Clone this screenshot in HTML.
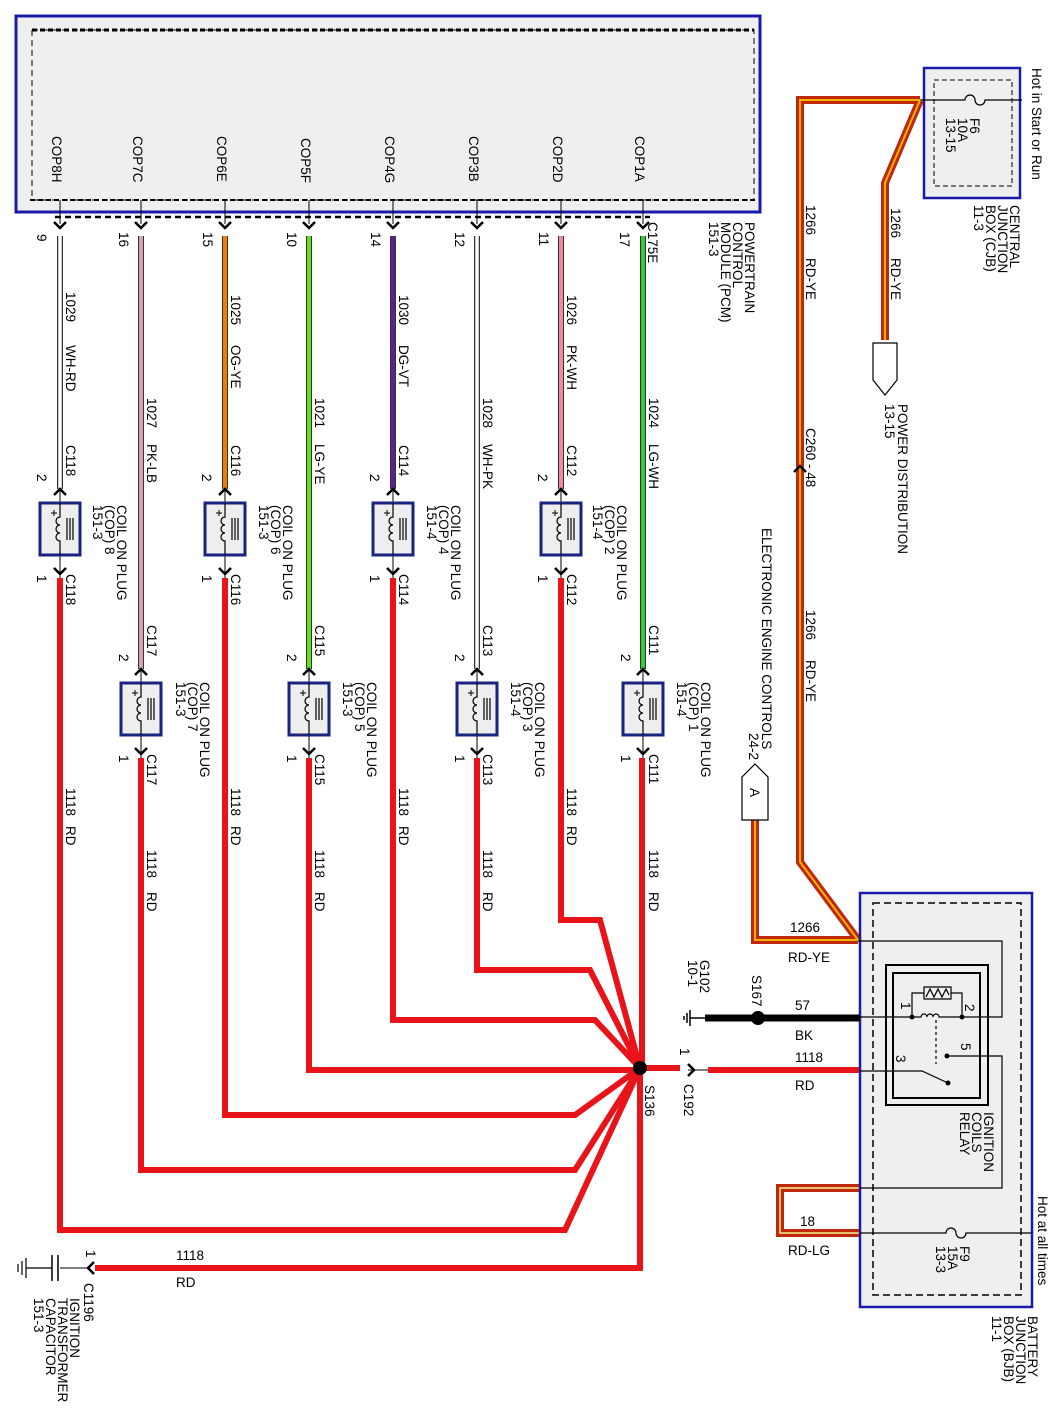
<!DOCTYPE html>
<html><head><meta charset="utf-8"><style>
html,body{margin:0;padding:0;background:#fff}
svg{display:block}
text{font-family:"Liberation Sans",sans-serif;font-size:13.5px;fill:#000}
</style></head><body>
<svg width="1058" height="1412" viewBox="0 0 1058 1412" xmlns="http://www.w3.org/2000/svg">
<defs>
<g id="coil">
<rect x="-20" y="-26" width="40" height="52" fill="#eeeeee" stroke="#1a237e" stroke-width="3"/>
<path d="M0,-26 V-12 a4,4 0 0 0 0,8 a4,4 0 0 0 0,8 a4,4 0 0 0 0,8 V26" fill="none" stroke="#000" stroke-width="1.2"/>
<path d="M7,-11 V11 M10,-11 V11 M13,-11 V11" stroke="#000" stroke-width="1.2"/>
<path d="M-9,-16 h6 M-6,-19 v6" stroke="#000" stroke-width="1"/>
</g>
<path id="chd" d="M-6,-6 L0,0 L6,-6" fill="none" stroke="#000" stroke-width="2.5"/>
<path id="chu" d="M-6,6 L0,0 L6,6" fill="none" stroke="#000" stroke-width="2.5"/>
</defs>

<rect x="16" y="16" width="744" height="196" fill="#efefef" stroke="#1a1aaa" stroke-width="3"/>
<path d="M32,30 H754 V200 M32,30 V200 H754" fill="none" stroke="#000" stroke-width="1" stroke-dasharray="6,4"/>
<path d="M32,30 H754" stroke="#000" stroke-width="3" stroke-dasharray="5,3"/>
<path d="M30,200 H756" stroke="#000" stroke-width="2" stroke-dasharray="5,3"/>
<path d="M55,217 H650" stroke="#000" stroke-width="2.5" stroke-dasharray="6,4"/>

<g transform="translate(52,136) rotate(90)"><text>COP8H</text></g>
<g transform="translate(133,136) rotate(90)"><text>COP7C</text></g>
<g transform="translate(217,136) rotate(90)"><text>COP6E</text></g>
<g transform="translate(301,138) rotate(90)"><text>COP5F</text></g>
<g transform="translate(385,136) rotate(90)"><text>COP4G</text></g>
<g transform="translate(469,136) rotate(90)"><text>COP3B</text></g>
<g transform="translate(553,136) rotate(90)"><text>COP2D</text></g>
<g transform="translate(635,136) rotate(90)"><text>COP1A</text></g>

<g transform="translate(745,222) rotate(90)"><text>POWERTRAIN</text></g>
<g transform="translate(733,222) rotate(90)"><text>CONTROL</text></g>
<g transform="translate(721,222) rotate(90)"><text>MODULE (PCM)</text></g>
<g transform="translate(709,222) rotate(90)"><text>151-3</text></g>

<g stroke="#000" stroke-width="1">
<path d="M60,200 V224 M141,200 V224 M225,200 V224 M309,200 V224 M393,200 V224 M477,200 V224 M561,200 V224 M643,200 V224"/>
</g>
<use href="#chd" x="60" y="228"/><use href="#chd" x="141" y="228"/><use href="#chd" x="225" y="228"/><use href="#chd" x="309" y="228"/>
<use href="#chd" x="393" y="228"/><use href="#chd" x="477" y="228"/><use href="#chd" x="561" y="228"/><use href="#chd" x="643" y="228"/>

<g fill="none" stroke-linecap="butt">
<path d="M60,236 V489 M141,236 V669 M225,236 V489 M309,236 V669 M393,236 V489 M477,236 V669 M561,236 V489 M643,236 V669" stroke="#333" stroke-width="6"/>
<path d="M60,236 V489" stroke="#fff" stroke-width="3.5"/>
<path d="M141,236 V669" stroke="#d8a2ac" stroke-width="4"/>
<path d="M225,236 V489" stroke="#f07d00" stroke-width="4"/>
<path d="M309,236 V669" stroke="#66e01a" stroke-width="4"/>
<path d="M393,236 V489" stroke="#5a2290" stroke-width="4"/>
<path d="M477,236 V669" stroke="#fff" stroke-width="3.5"/>
<path d="M561,236 V489" stroke="#ef8aa0" stroke-width="4"/>
<path d="M643,236 V669" stroke="#33cc33" stroke-width="4"/>
</g>

<g>
<g transform="translate(37,234) rotate(90)"><text>9</text></g>
<g transform="translate(119,232) rotate(90)"><text>16</text></g>
<g transform="translate(203,232) rotate(90)"><text>15</text></g>
<g transform="translate(287,232) rotate(90)"><text>10</text></g>
<g transform="translate(371,232) rotate(90)"><text>14</text></g>
<g transform="translate(455,232) rotate(90)"><text>12</text></g>
<g transform="translate(539,232) rotate(90)"><text>11</text></g>
<g transform="translate(620,232) rotate(90)"><text>17</text></g>
<g transform="translate(648,222) rotate(90)"><text>C175E</text></g>
</g>

<g transform="translate(66,292) rotate(90)"><text>1029</text></g>
<g transform="translate(66,345) rotate(90)"><text>WH-RD</text></g>
<g transform="translate(147,398) rotate(90)"><text>1027</text></g>
<g transform="translate(147,444) rotate(90)"><text>PK-LB</text></g>
<g transform="translate(231,295) rotate(90)"><text>1025</text></g>
<g transform="translate(231,345) rotate(90)"><text>OG-YE</text></g>
<g transform="translate(315,398) rotate(90)"><text>1021</text></g>
<g transform="translate(315,444) rotate(90)"><text>LG-YE</text></g>
<g transform="translate(399,295) rotate(90)"><text>1030</text></g>
<g transform="translate(399,345) rotate(90)"><text>DG-VT</text></g>
<g transform="translate(483,398) rotate(90)"><text>1028</text></g>
<g transform="translate(483,444) rotate(90)"><text>WH-PK</text></g>
<g transform="translate(567,295) rotate(90)"><text>1026</text></g>
<g transform="translate(567,345) rotate(90)"><text>PK-WH</text></g>
<g transform="translate(649,398) rotate(90)"><text>1024</text></g>
<g transform="translate(649,444) rotate(90)"><text>LG-WH</text></g>

<g fill="none" stroke="#e8141a" stroke-width="6" stroke-linejoin="miter">
<path d="M60,578 V1230 H565 L640,1068"/>
<path d="M141,758 V1170 H575 L640,1068"/>
<path d="M225,578 V1115 H575 L640,1068"/>
<path d="M309,758 V1070 H640"/>
<path d="M393,578 V1020 H595 L640,1068"/>
<path d="M477,758 V970 H590 L640,1068"/>
<path d="M561,578 V920 H600 L640,1068"/>
<path d="M642,758 V1068"/>
<path d="M640,1068 V1268 H95"/>
<path d="M640,1068 H680"/>
<path d="M708,1070 H860"/>
</g>
<circle cx="640" cy="1068" r="7" fill="#000"/>

<g stroke="#000" stroke-width="1"><path d="M60,489 V578 M225,489 V578 M393,489 V578 M561,489 V578 M141,669 V758 M309,669 V758 M477,669 V758 M643,669 V758"/></g>
<use href="#coil" x="60" y="529"/><use href="#coil" x="225" y="529"/><use href="#coil" x="393" y="529"/><use href="#coil" x="561" y="529"/>
<use href="#coil" x="141" y="709"/><use href="#coil" x="309" y="709"/><use href="#coil" x="477" y="709"/><use href="#coil" x="643" y="709"/>
<use href="#chu" x="60" y="489"/><use href="#chu" x="225" y="489"/><use href="#chu" x="393" y="489"/><use href="#chu" x="561" y="489"/>
<use href="#chd" x="60" y="574"/><use href="#chd" x="225" y="574"/><use href="#chd" x="393" y="574"/><use href="#chd" x="561" y="574"/>
<use href="#chu" x="141" y="669"/><use href="#chu" x="309" y="669"/><use href="#chu" x="477" y="669"/><use href="#chu" x="643" y="669"/>
<use href="#chd" x="141" y="754"/><use href="#chd" x="309" y="754"/><use href="#chd" x="477" y="754"/><use href="#chd" x="643" y="754"/>

<g>
<g transform="translate(66,445) rotate(90)"><text>C118</text></g><g transform="translate(37,474) rotate(90)"><text>2</text></g>
<g transform="translate(37,575) rotate(90)"><text>1</text></g><g transform="translate(66,574) rotate(90)"><text>C118</text></g>
<g transform="translate(117,505) rotate(90)"><text>COIL ON PLUG</text></g><g transform="translate(105,505) rotate(90)"><text>(COP) 8</text></g><g transform="translate(93,505) rotate(90)"><text>151-3</text></g>

<g transform="translate(231,445) rotate(90)"><text>C116</text></g><g transform="translate(202,474) rotate(90)"><text>2</text></g>
<g transform="translate(202,575) rotate(90)"><text>1</text></g><g transform="translate(231,574) rotate(90)"><text>C116</text></g>
<g transform="translate(283,505) rotate(90)"><text>COIL ON PLUG</text></g><g transform="translate(271,505) rotate(90)"><text>(COP) 6</text></g><g transform="translate(259,505) rotate(90)"><text>151-3</text></g>

<g transform="translate(399,445) rotate(90)"><text>C114</text></g><g transform="translate(370,474) rotate(90)"><text>2</text></g>
<g transform="translate(370,575) rotate(90)"><text>1</text></g><g transform="translate(399,574) rotate(90)"><text>C114</text></g>
<g transform="translate(451,505) rotate(90)"><text>COIL ON PLUG</text></g><g transform="translate(439,505) rotate(90)"><text>(COP) 4</text></g><g transform="translate(427,505) rotate(90)"><text>151-4</text></g>

<g transform="translate(567,445) rotate(90)"><text>C112</text></g><g transform="translate(538,474) rotate(90)"><text>2</text></g>
<g transform="translate(538,575) rotate(90)"><text>1</text></g><g transform="translate(567,574) rotate(90)"><text>C112</text></g>
<g transform="translate(617,505) rotate(90)"><text>COIL ON PLUG</text></g><g transform="translate(605,505) rotate(90)"><text>(COP) 2</text></g><g transform="translate(593,505) rotate(90)"><text>151-4</text></g>
</g>

<g>
<g transform="translate(147,625) rotate(90)"><text>C117</text></g><g transform="translate(119,654) rotate(90)"><text>2</text></g>
<g transform="translate(119,755) rotate(90)"><text>1</text></g><g transform="translate(147,754) rotate(90)"><text>C117</text></g>
<g transform="translate(200,682) rotate(90)"><text>COIL ON PLUG</text></g><g transform="translate(188,682) rotate(90)"><text>(COP) 7</text></g><g transform="translate(176,682) rotate(90)"><text>151-3</text></g>

<g transform="translate(315,625) rotate(90)"><text>C115</text></g><g transform="translate(287,654) rotate(90)"><text>2</text></g>
<g transform="translate(287,755) rotate(90)"><text>1</text></g><g transform="translate(315,754) rotate(90)"><text>C115</text></g>
<g transform="translate(367,682) rotate(90)"><text>COIL ON PLUG</text></g><g transform="translate(355,682) rotate(90)"><text>(COP) 5</text></g><g transform="translate(343,682) rotate(90)"><text>151-3</text></g>

<g transform="translate(483,625) rotate(90)"><text>C113</text></g><g transform="translate(455,654) rotate(90)"><text>2</text></g>
<g transform="translate(455,755) rotate(90)"><text>1</text></g><g transform="translate(483,754) rotate(90)"><text>C113</text></g>
<g transform="translate(535,682) rotate(90)"><text>COIL ON PLUG</text></g><g transform="translate(523,682) rotate(90)"><text>(COP) 3</text></g><g transform="translate(511,682) rotate(90)"><text>151-4</text></g>

<g transform="translate(649,625) rotate(90)"><text>C111</text></g><g transform="translate(621,654) rotate(90)"><text>2</text></g>
<g transform="translate(621,755) rotate(90)"><text>1</text></g><g transform="translate(649,754) rotate(90)"><text>C111</text></g>
<g transform="translate(701,682) rotate(90)"><text>COIL ON PLUG</text></g><g transform="translate(689,682) rotate(90)"><text>(COP) 1</text></g><g transform="translate(677,682) rotate(90)"><text>151-4</text></g>
</g>

<g>
<g transform="translate(66,788) rotate(90)"><text>1118</text></g><g transform="translate(66,826) rotate(90)"><text>RD</text></g>
<g transform="translate(231,788) rotate(90)"><text>1118</text></g><g transform="translate(231,826) rotate(90)"><text>RD</text></g>
<g transform="translate(399,788) rotate(90)"><text>1118</text></g><g transform="translate(399,826) rotate(90)"><text>RD</text></g>
<g transform="translate(567,788) rotate(90)"><text>1118</text></g><g transform="translate(567,826) rotate(90)"><text>RD</text></g>
<g transform="translate(147,850) rotate(90)"><text>1118</text></g><g transform="translate(147,892) rotate(90)"><text>RD</text></g>
<g transform="translate(315,850) rotate(90)"><text>1118</text></g><g transform="translate(315,892) rotate(90)"><text>RD</text></g>
<g transform="translate(483,850) rotate(90)"><text>1118</text></g><g transform="translate(483,892) rotate(90)"><text>RD</text></g>
<g transform="translate(649,850) rotate(90)"><text>1118</text></g><g transform="translate(649,892) rotate(90)"><text>RD</text></g>
</g>

<g transform="translate(645,1085) rotate(90)"><text>S136</text></g>
<use href="#chd" x="694" y="1070" transform="rotate(-90 694 1070)"/>
<path d="M688,1070 H708" stroke="#000" stroke-width="1"/>
<g transform="translate(680,1048) rotate(90)"><text>1</text></g>
<g transform="translate(684,1084) rotate(90)"><text>C192</text></g>
<text x="795" y="1062">1118</text><text x="795" y="1090">RD</text>

<text x="176" y="1260">1118</text><text x="176" y="1287">RD</text>
<use href="#chd" x="88" y="1268" transform="rotate(90 88 1268)"/>
<path d="M60,1268 H90" stroke="#000" stroke-width="1"/>
<path d="M58,1255 V1281 M52,1255 V1281" stroke="#000" stroke-width="1.5"/>
<path d="M52,1268 H26 M26,1258 V1278 M22,1261 V1275 M18,1264 V1272" stroke="#000" stroke-width="1.2"/>
<g transform="translate(86,1250) rotate(90)"><text>1</text></g>
<g transform="translate(84,1283) rotate(90)"><text>C1196</text></g>
<g transform="translate(70,1298) rotate(90)"><text>IGNITION</text></g>
<g transform="translate(58,1298) rotate(90)"><text>TRANSFORMER</text></g>
<g transform="translate(46,1298) rotate(90)"><text>CAPACITOR</text></g>
<g transform="translate(34,1298) rotate(90)"><text>151-3</text></g>

<rect x="924" y="68" width="96" height="130" fill="#efefef" stroke="#1a1aaa" stroke-width="2.5"/>
<rect x="934" y="80" width="78" height="106" fill="none" stroke="#000" stroke-width="1" stroke-dasharray="5,3"/>
<path d="M920,100 H965 a5,5 0 0 1 10,0 a5,5 0 0 0 10,0 H1022" fill="none" stroke="#000" stroke-width="1.2"/>
<g transform="translate(1032,68) rotate(90)"><text font-size="12">Hot in Start or Run</text></g>
<g transform="translate(970,118) rotate(90)"><text>F6</text></g>
<g transform="translate(958,118) rotate(90)"><text>10A</text></g>
<g transform="translate(946,118) rotate(90)"><text>13-15</text></g>
<g transform="translate(1010,205) rotate(90)"><text>CENTRAL</text></g>
<g transform="translate(998,205) rotate(90)"><text>JUNCTION</text></g>
<g transform="translate(986,205) rotate(90)"><text>BOX (CJB)</text></g>
<g transform="translate(974,205) rotate(90)"><text>11-3</text></g>

<g fill="none" stroke-linejoin="miter">
<path d="M920,100 H800 V862 L858,940 M920,100 L885,183 V340 M755,820 V940 H858" stroke="#c0280e" stroke-width="8"/>
<path d="M920,100 H800 V862 L858,940 M920,100 L885,183 V340 M755,820 V940 H858" stroke="#f4b400" stroke-width="2"/>
<path d="M860,1188 H780 V1233 H860" stroke="#c0280e" stroke-width="8"/>
<path d="M860,1188 H780 V1233 H860" stroke="#e8c070" stroke-width="2"/>
</g>
<g transform="translate(806,205) rotate(90)"><text>1266</text></g>
<g transform="translate(806,258) rotate(90)"><text>RD-YE</text></g>
<g transform="translate(891,208) rotate(90)"><text>1266</text></g>
<g transform="translate(891,258) rotate(90)"><text>RD-YE</text></g>
<g transform="translate(806,428) rotate(90)"><text>C260 - 48</text></g>
<use href="#chu" x="800" y="466"/>
<g transform="translate(806,610) rotate(90)"><text>1266</text></g>
<g transform="translate(806,660) rotate(90)"><text>RD-YE</text></g>
<polygon points="873,343 897,343 897,380 885,395 873,380" fill="#fff" stroke="#000" stroke-width="1.2"/>
<g transform="translate(898,404) rotate(90)"><text>POWER DISTRIBUTION</text></g>
<g transform="translate(885,404) rotate(90)"><text>13-15</text></g>
<polygon points="755,764 768,777 768,820 742,820 742,777" fill="#fff" stroke="#000" stroke-width="1.2"/>
<g transform="translate(750,788) rotate(90)"><text>A</text></g>
<g transform="translate(762,528) rotate(90)"><text>ELECTRONIC ENGINE CONTROLS</text></g>
<g transform="translate(749,760) rotate(90)"><text text-anchor="end">24-2</text></g>
<text x="790" y="932">1266</text><text x="788" y="962">RD-YE</text>

<rect x="860" y="893" width="172" height="414" fill="#efefef" stroke="#1a1aaa" stroke-width="2.5"/>
<rect x="873" y="903" width="148" height="392" fill="none" stroke="#000" stroke-width="1.5" stroke-dasharray="7,4"/>
<rect x="886" y="965" width="102" height="140" fill="none" stroke="#000" stroke-width="2"/>
<rect x="893" y="973" width="87" height="125" fill="none" stroke="#000" stroke-width="2"/>
<g fill="none" stroke="#000" stroke-width="1.2">
<path d="M858,941 H1002 V1017 H962"/>
<path d="M860,1017 H912"/>
<path d="M912,1017 H921 a3,3 0 0 1 6,0 a3,3 0 0 1 6,0 a3,3 0 0 1 6,0 H962"/>
<path d="M912,1017 V993 H924 M951,993 H962 V1017"/>
<path d="M924,987 H951 V999 H924 Z M926,997 l4,-8 l4,8 l4,-8 l4,8 l4,-8 l3,6"/>
<path d="M936,1020 V1064" stroke-dasharray="3,3"/>
<path d="M947,1056 H1002 V1188 H860"/>
<path d="M860,1071 H922 L948,1083"/>
<path d="M860,1233 H946 a5,5 0 0 1 10,0 a5,5 0 0 0 10,0 H1032"/>
</g>
<circle cx="912" cy="1017" r="2.5" fill="#000"/><circle cx="962" cy="1017" r="2.5" fill="#000"/>
<circle cx="947" cy="1056" r="2.5" fill="#000"/><circle cx="948" cy="1083" r="2.5" fill="#000"/>
<g transform="translate(901,1002) rotate(90)"><text font-size="12">1</text></g>
<g transform="translate(965,1004) rotate(90)"><text font-size="12">2</text></g>
<g transform="translate(896,1055) rotate(90)"><text font-size="12">3</text></g>
<g transform="translate(961,1043) rotate(90)"><text font-size="12">5</text></g>
<g transform="translate(984,1112) rotate(90)"><text>IGNITION</text></g>
<g transform="translate(972,1112) rotate(90)"><text>COILS</text></g>
<g transform="translate(960,1112) rotate(90)"><text>RELAY</text></g>
<g transform="translate(1038,1196) rotate(90)"><text font-size="12">Hot at all times</text></g>
<g transform="translate(960,1246) rotate(90)"><text>F9</text></g>
<g transform="translate(948,1246) rotate(90)"><text>15A</text></g>
<g transform="translate(936,1246) rotate(90)"><text>13-3</text></g>
<g transform="translate(1028,1316) rotate(90)"><text>BATTERY</text></g>
<g transform="translate(1016,1316) rotate(90)"><text>JUNCTION</text></g>
<g transform="translate(1004,1316) rotate(90)"><text>BOX (BJB)</text></g>
<g transform="translate(992,1316) rotate(90)"><text>11-1</text></g>
<text x="800" y="1226">18</text><text x="788" y="1255">RD-LG</text>

<path d="M705,1018 H860" stroke="#000" stroke-width="7"/>
<circle cx="758" cy="1018" r="7" fill="#000"/>
<path d="M705,1018 H690 M690,1010 V1026 M687,1013 V1023 M684,1016 V1020" stroke="#000" stroke-width="1.5"/>
<text x="795" y="1010">57</text><text x="795" y="1040">BK</text>
<g transform="translate(752,975) rotate(90)"><text>S167</text></g>
<g transform="translate(700,960) rotate(90)"><text>G102</text></g>
<g transform="translate(688,960) rotate(90)"><text>10-1</text></g>
</svg>
</body></html>
